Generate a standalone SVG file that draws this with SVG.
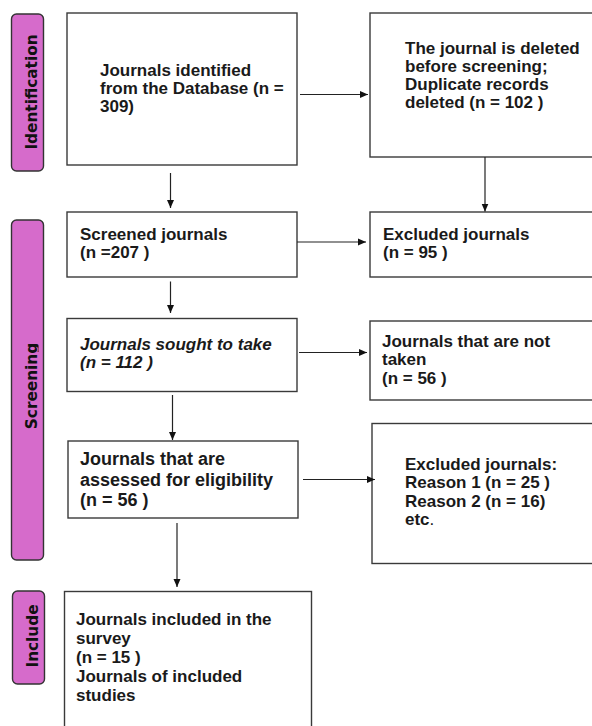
<svg xmlns="http://www.w3.org/2000/svg" width="592" height="726" viewBox="0 0 592 726">
<style>
.box{fill:#fff;stroke:#3a3a3a;stroke-width:1.4}
.lab{fill:#D66BCB;stroke:#333;stroke-width:1.4}
.t{font-family:"Liberation Sans",Arial,sans-serif;font-weight:bold;font-size:17px;fill:#1a1a1a}
.ti{font-style:italic}
.big{font-size:18px}
.lt{font-family:"DejaVu Sans",Verdana,sans-serif;font-weight:bold;font-size:15.3px;fill:#111}
.c{stroke:#222;stroke-width:1.2;fill:none;marker-end:url(#ah)}
</style>
<defs>
<marker id="ah" markerUnits="userSpaceOnUse" markerWidth="10" markerHeight="8" refX="8" refY="4" orient="auto">
<path d="M0,0.5 L8,4 L0,7.5 Z" fill="#111"/>
</marker>
<clipPath id="clipS" clipPathUnits="userSpaceOnUse"><rect x="11" y="220" width="27.5" height="340"/></clipPath>
</defs>
<rect width="592" height="726" fill="#fff"/>

<g id="label-identification">
<rect class="lab" x="11.5" y="14" width="32" height="157" rx="5"/>
<text class="lt" transform="translate(37,92) rotate(-90)" text-anchor="middle">Identification</text>
</g>
<g id="label-screening">
<rect class="lab" x="11.5" y="220" width="32" height="340" rx="5"/>
<g clip-path="url(#clipS)">
<text class="lt" transform="translate(37,386) rotate(-90)" text-anchor="middle">Screening</text>
</g>
</g>
<g id="label-include">
<rect class="lab" x="12.5" y="591" width="32" height="93" rx="5"/>
<text class="lt" transform="translate(38,636) rotate(-90)" text-anchor="middle">Include</text>
</g>

<g id="n-identified">
<rect class="box" x="67" y="13" width="230" height="152"/>
<text class="t" x="100" y="76">Journals identified</text>
<text class="t" x="100" y="94">from the Database (n =</text>
<text class="t" x="100" y="112">309)</text>
</g>
<g id="n-deleted">
<rect class="box" x="370" y="13" width="240" height="144"/>
<text class="t" x="405" y="54">The journal is deleted</text>
<text class="t" x="405" y="72">before screening;</text>
<text class="t" x="405" y="90">Duplicate records</text>
<text class="t" x="405" y="107.5">deleted (n = 102 )</text>
</g>
<g id="n-screened">
<rect class="box" x="67" y="212" width="230" height="65"/>
<text class="t" x="80" y="240">Screened journals</text>
<text class="t" x="80" y="258">(n =207 )</text>
</g>
<g id="n-excluded">
<rect class="box" x="370" y="212" width="240" height="65"/>
<text class="t" x="383" y="240">Excluded journals</text>
<text class="t" x="383" y="258">(n = 95 )</text>
</g>
<g id="n-sought">
<rect class="box" x="67" y="318.5" width="230" height="73"/>
<text class="t ti" x="80" y="350">Journals sought to take</text>
<text class="t ti" x="80" y="368">(n = 112 )</text>
</g>
<g id="n-nottaken">
<rect class="box" x="370" y="321" width="240" height="79"/>
<text class="t" x="382" y="346.5">Journals that are not</text>
<text class="t" x="382" y="365">taken</text>
<text class="t" x="382" y="383.5">(n = 56 )</text>
</g>
<g id="n-assessed">
<rect class="box" x="68" y="441" width="230" height="77"/>
<text class="t big" x="80" y="465">Journals that are</text>
<text class="t big" x="80" y="485.5">assessed for eligibility</text>
<text class="t big" x="80" y="506">(n = 56 )</text>
</g>
<g id="n-reasons">
<rect class="box" x="372" y="423.5" width="240" height="140"/>
<text class="t" x="405" y="470">Excluded journals:</text>
<text class="t" x="405" y="488">Reason 1 (n = 25 )</text>
<text class="t" x="405" y="506.5">Reason 2 (n = 16)</text>
<text class="t" x="405" y="525">etc<tspan font-weight="normal">.</tspan></text>
</g>
<g id="n-included">
<rect class="box" x="64.5" y="591.5" width="247" height="150"/>
<text class="t" x="76" y="625">Journals included in the</text>
<text class="t" x="76" y="644">survey</text>
<text class="t" x="76" y="663">(n = 15 )</text>
<text class="t" x="76" y="682">Journals of included</text>
<text class="t" x="76" y="701">studies</text>
</g>

<g id="connectors">
<line class="c" x1="300" y1="94.5" x2="368" y2="94.5"/>
<line class="c" x1="485" y1="157" x2="485" y2="211.5"/>
<line class="c" x1="170.5" y1="173" x2="170.5" y2="208"/>
<line class="c" x1="297" y1="242" x2="366" y2="242"/>
<line class="c" x1="170.5" y1="281.5" x2="170.5" y2="313"/>
<line class="c" x1="299" y1="352.5" x2="367" y2="352.5"/>
<line class="c" x1="172.5" y1="395" x2="172.5" y2="440"/>
<line class="c" x1="303" y1="479.5" x2="375" y2="479.5"/>
<line class="c" x1="177" y1="523" x2="177" y2="587"/>
</g>
</svg>
